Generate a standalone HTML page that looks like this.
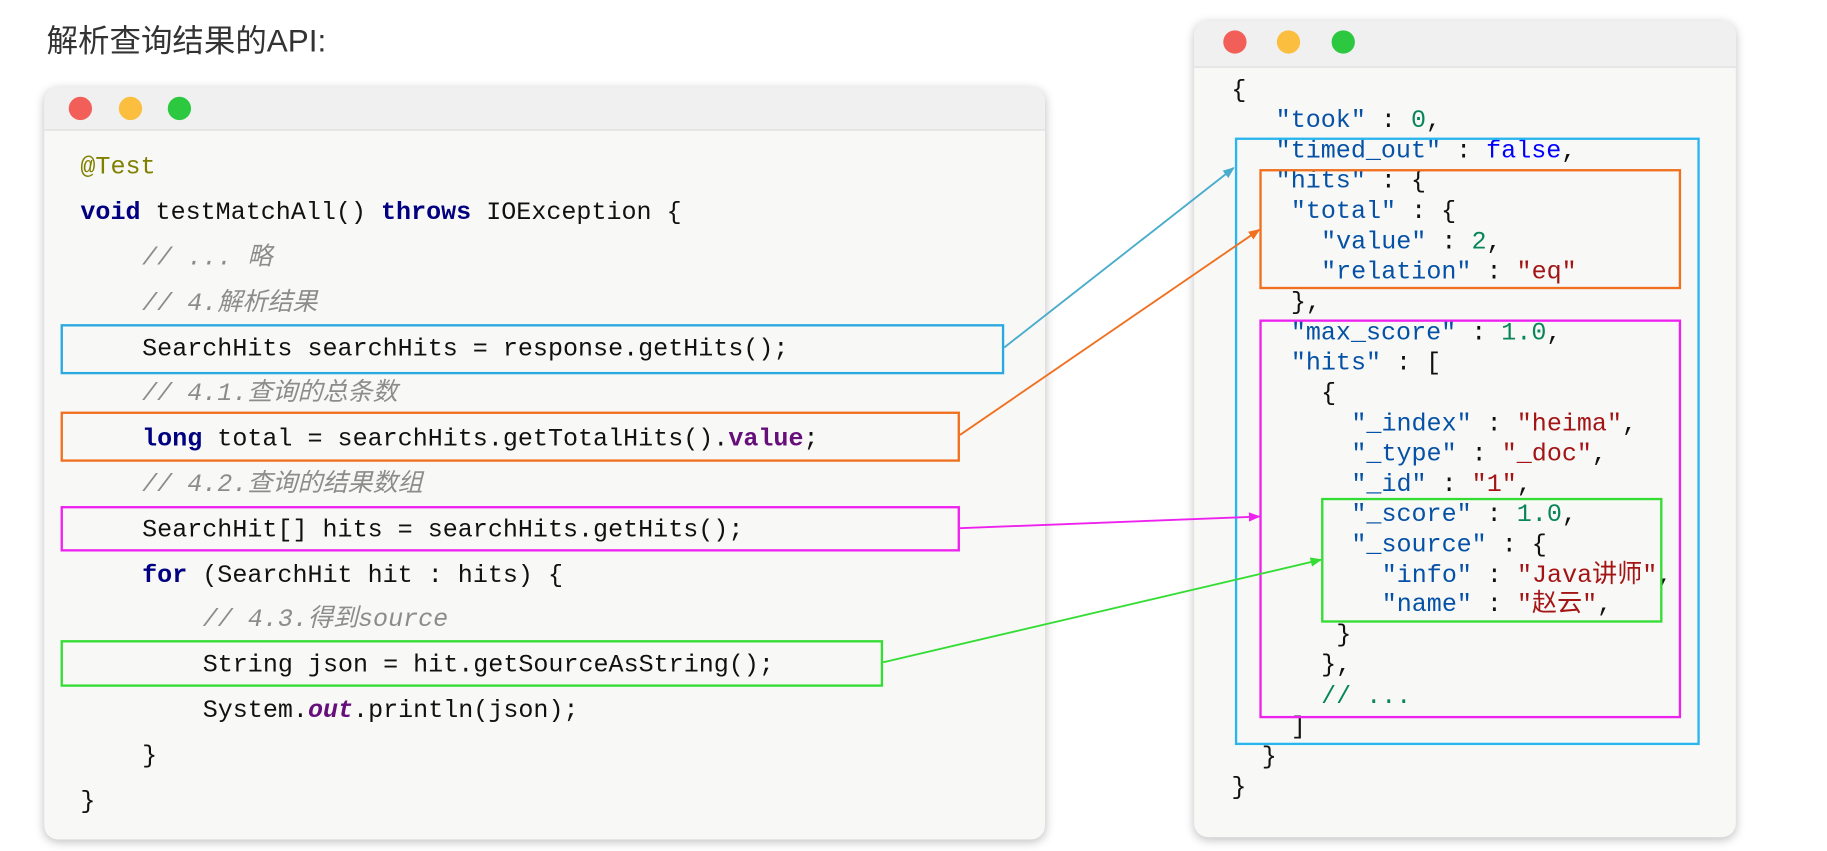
<!DOCTYPE html>
<html><head><meta charset="utf-8"><style>
html,body{margin:0;padding:0;background:#fff;width:1827px;height:851px;overflow:hidden}
#s{position:absolute;left:0;top:0;width:1568px;height:730px;transform:scale(1.165,1.166);transform-origin:0 0}
.win{position:absolute;background:#f8f8f7;border-radius:12px;box-shadow:0 2px 8px rgba(0,0,0,.25);overflow:hidden}
.bar{position:absolute;left:0;right:0;top:0;background:#f0f0f0;border-bottom:1px solid #ddd}
.dot{position:absolute;width:20px;height:20px;border-radius:50%}
.l{position:absolute;white-space:pre;font-family:"Liberation Mono","Noto Sans CJK SC",monospace;font-size:21.5px;line-height:24px;color:#111;margin-top:2px}
.b{position:absolute;border:2px solid;box-sizing:border-box}
.kw{color:#000080;font-weight:bold}.an{color:#808000}.cm{color:#8c8c8c;font-style:italic}.pu{color:#660e7a;font-weight:bold}
.k{color:#0451a5}.n{color:#098658}.s{color:#a31515}.f{color:#0000ff}
</style></head><body><div id="s">
<div style="position:absolute;left:40px;top:13px;font-family:'Liberation Sans','Noto Sans CJK SC',sans-serif;font-size:27px;color:#333">解析查询结果的API:</div>

<div class="win" style="left:38px;top:75px;width:859px;height:645px">
<div class="bar" style="height:36px"></div>
<div class="dot" style="left:21px;top:8px;background:#f25f58"></div>
<div class="dot" style="left:64px;top:8px;background:#fbbe3f"></div>
<div class="dot" style="left:106px;top:8px;background:#2bc840"></div>
</div>
<div class="l an" style="left:69px;top:130px">@Test</div>
<div class="l" style="left:69px;top:169px"><span class="kw">void</span> testMatchAll() <span class="kw">throws</span> IOException {</div>
<div class="l cm" style="left:122px;top:208px">// ... 略</div>
<div class="l cm" style="left:122px;top:247px">// 4.解析结果</div>
<div class="l" style="left:122px;top:286px">SearchHits searchHits = response.getHits();</div>
<div class="l cm" style="left:122px;top:324px">// 4.1.查询的总条数</div>
<div class="l" style="left:122px;top:363px"><span class="kw">long</span> total = searchHits.getTotalHits().<span class="pu">value</span>;</div>
<div class="l cm" style="left:122px;top:402px">// 4.2.查询的结果数组</div>
<div class="l" style="left:122px;top:441px">SearchHit[] hits = searchHits.getHits();</div>
<div class="l" style="left:122px;top:480px"><span class="kw">for</span> (SearchHit hit : hits) {</div>
<div class="l cm" style="left:174px;top:518px">// 4.3.得到source</div>
<div class="l" style="left:174px;top:557px">String json = hit.getSourceAsString();</div>
<div class="l" style="left:174px;top:596px">System.<span class="pu" style="font-style:italic">out</span>.println(json);</div>
<div class="l" style="left:122px;top:635px">}</div>
<div class="l" style="left:69px;top:674px">}</div>
<div class="b" style="left:52px;top:278px;width:810px;height:43px;border-color:#29a9e0"></div>
<div class="b" style="left:52px;top:353px;width:772px;height:43px;border-color:#f07020"></div>
<div class="b" style="left:52px;top:434px;width:772px;height:39px;border-color:#ee22ee"></div>
<div class="b" style="left:52px;top:549px;width:706px;height:40px;border-color:#33dd33"></div>

<div class="win" style="left:1025px;top:18px;width:465px;height:700px">
<div class="bar" style="height:39px"></div>
<div class="dot" style="left:25px;top:8px;background:#f25f58"></div>
<div class="dot" style="left:71px;top:8px;background:#fbbe3f"></div>
<div class="dot" style="left:118px;top:8px;background:#2bc840"></div>
</div>
<div class="l" style="left:1057px;top:64px">{</div>
<div class="l" style="left:1095px;top:90px"><span class="k">"took"</span> : <span class="n">0</span>,</div>
<div class="l" style="left:1095px;top:116px"><span class="k">"timed_out"</span> : <span class="f">false</span>,</div>
<div class="l" style="left:1095px;top:142px"><span class="k">"hits"</span> : {</div>
<div class="l" style="left:1108px;top:168px"><span class="k">"total"</span> : {</div>
<div class="l" style="left:1134px;top:194px"><span class="k">"value"</span> : <span class="n">2</span>,</div>
<div class="l" style="left:1134px;top:220px"><span class="k">"relation"</span> : <span class="s">"eq"</span></div>
<div class="l" style="left:1108px;top:246px">},</div>
<div class="l" style="left:1108px;top:272px"><span class="k">"max_score"</span> : <span class="n">1.0</span>,</div>
<div class="l" style="left:1108px;top:298px"><span class="k">"hits"</span> : [</div>
<div class="l" style="left:1134px;top:324px">{</div>
<div class="l" style="left:1160px;top:350px"><span class="k">"_index"</span> : <span class="s">"heima"</span>,</div>
<div class="l" style="left:1160px;top:376px"><span class="k">"_type"</span> : <span class="s">"_doc"</span>,</div>
<div class="l" style="left:1160px;top:402px"><span class="k">"_id"</span> : <span class="s">"1"</span>,</div>
<div class="l" style="left:1160px;top:428px"><span class="k">"_score"</span> : <span class="n">1.0</span>,</div>
<div class="l" style="left:1160px;top:454px"><span class="k">"_source"</span> : {</div>
<div class="l" style="left:1186px;top:480px"><span class="k">"info"</span> : <span class="s">"Java讲师"</span>,</div>
<div class="l" style="left:1186px;top:505px"><span class="k">"name"</span> : <span class="s">"赵云"</span>,</div>
<div class="l" style="left:1147px;top:531px">}</div>
<div class="l" style="left:1134px;top:557px">},</div>
<div class="l n" style="left:1134px;top:584px">// ...</div>
<div class="l" style="left:1108px;top:610px">]</div>
<div class="l" style="left:1083px;top:636px">}</div>
<div class="l" style="left:1057px;top:662px">}</div>
<div class="b" style="left:1060px;top:118px;width:399px;height:521px;border-color:#29b6ee"></div>
<div class="b" style="left:1081px;top:145px;width:362px;height:103px;border-color:#f07020"></div>
<div class="b" style="left:1081px;top:274px;width:362px;height:342px;border-color:#ee22ee"></div>
<div class="b" style="left:1134px;top:427px;width:293px;height:107px;border-color:#33dd33"></div>

<svg style="position:absolute;left:0;top:0" width="1568" height="730">
<defs>
<marker id="ab" markerWidth="10" markerHeight="8" refX="9" refY="4" orient="auto" markerUnits="userSpaceOnUse"><path d="M0,0L10,4L0,8z" fill="#4aaccc"/></marker>
<marker id="ao" markerWidth="10" markerHeight="8" refX="9" refY="4" orient="auto" markerUnits="userSpaceOnUse"><path d="M0,0L10,4L0,8z" fill="#f07020"/></marker>
<marker id="am" markerWidth="10" markerHeight="8" refX="9" refY="4" orient="auto" markerUnits="userSpaceOnUse"><path d="M0,0L10,4L0,8z" fill="#ee22ee"/></marker>
<marker id="ag" markerWidth="10" markerHeight="8" refX="9" refY="4" orient="auto" markerUnits="userSpaceOnUse"><path d="M0,0L10,4L0,8z" fill="#33dd33"/></marker>
</defs>
<line x1="862" y1="298" x2="1059" y2="144" stroke="#4aaccc" stroke-width="1.6" marker-end="url(#ab)"/>
<line x1="824" y1="373" x2="1081" y2="197" stroke="#f07020" stroke-width="1.6" marker-end="url(#ao)"/>
<line x1="824" y1="453" x2="1081" y2="443" stroke="#ee22ee" stroke-width="1.6" marker-end="url(#am)"/>
<line x1="758" y1="568" x2="1134" y2="480" stroke="#33dd33" stroke-width="1.6" marker-end="url(#ag)"/>
</svg>
</div></body></html>
